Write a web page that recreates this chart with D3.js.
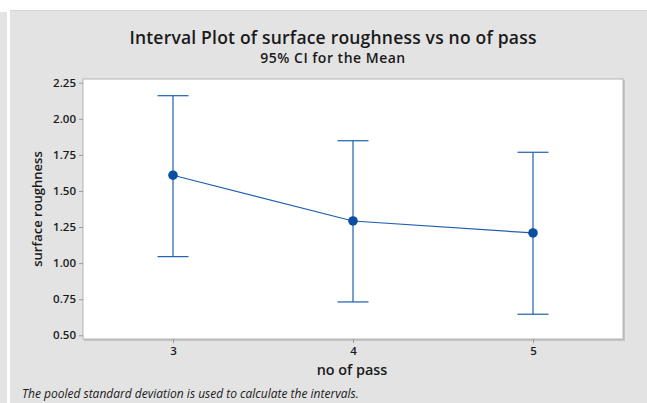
<!DOCTYPE html>
<html>
<head>
<meta charset="utf-8">
<script src="https://cdn.jsdelivr.net/npm/d3@7"></script>
<style>
  html, body { margin: 0; padding: 0; background: #ffffff; }
  svg { display: block; }
  text { font-family: "Open Sans", "Noto Sans", sans-serif; fill: #1a1a1a; }
</style>
</head>
<body>
<svg id="chart" width="647" height="403"></svg>
<script>
// Interval plot data: mean and 95% CI bounds per number of passes
const passes = [3, 4, 5];
const means = [1.609, 1.292, 1.209];
const lower = [1.045, 0.731, 0.646];
const upper = [2.160, 1.848, 1.768];
const yTicks = [0.50, 0.75, 1.00, 1.25, 1.50, 1.75, 2.00, 2.25];

const svg = d3.select("#chart");

// Background panels
svg.append("rect").attr("x", 0).attr("y", 12).attr("width", 7).attr("height", 391).attr("fill", "#e3e3e3");
svg.append("rect").attr("x", 10).attr("y", 10).attr("width", 637).attr("height", 393).attr("fill", "#e3e3e3");
svg.append("line").attr("x1", 10).attr("x2", 647).attr("y1", 10.5).attr("y2", 10.5).attr("stroke", "#d6d6d6");

const plot = { left: 83, right: 623, top: 79, bottom: 339 };

const x = d3.scaleLinear().domain([2.5, 5.5]).range([plot.left, plot.right]);
const y = d3.scaleLinear().domain([0.5, 2.25]).range([335.3, 82.7]);

// Plot area with a soft right/bottom edge
svg.append("rect").attr("x", plot.left + 1).attr("y", plot.top + 1)
  .attr("width", plot.right - plot.left + 1).attr("height", plot.bottom - plot.top + 1)
  .attr("fill", "#c4c4c4");
svg.append("rect").attr("x", plot.left).attr("y", plot.top)
  .attr("width", plot.right - plot.left).attr("height", plot.bottom - plot.top)
  .attr("fill", "#ffffff").attr("stroke", "#b4b4b4").attr("stroke-width", 1);

// Axes
const yAxis = d3.axisLeft(y).tickValues(yTicks).tickFormat(d3.format(".2f")).tickSize(4).tickPadding(3);
const gy = svg.append("g").attr("transform", `translate(${plot.left},0)`).call(yAxis);
gy.select(".domain").remove();
gy.selectAll(".tick line").attr("stroke", "#9a9a9a");
gy.selectAll(".tick text").style("font-size", "11.5px").style("font-weight", "600").attr("fill", "#1a1a1a");

const xAxis = d3.axisBottom(x).tickValues(passes).tickFormat(d3.format("d")).tickSize(4).tickPadding(4);
const gx = svg.append("g").attr("transform", `translate(0,${plot.bottom})`).call(xAxis);
gx.select(".domain").remove();
gx.selectAll(".tick line").attr("stroke", "#9a9a9a");
gx.selectAll(".tick text").style("font-size", "11.5px").style("font-weight", "600").attr("fill", "#1a1a1a");

// Titles
svg.append("text").attr("x", 333).attr("y", 43.5).attr("text-anchor", "middle")
  .style("font-size", "17.5px").style("font-weight", "600").style("letter-spacing", "0.2px")
  .text("Interval Plot of surface roughness vs no of pass");
svg.append("text").attr("x", 333).attr("y", 63).attr("text-anchor", "middle")
  .style("font-size", "14px").style("font-weight", "600").style("letter-spacing", "0.5px")
  .text("95% CI for the Mean");
svg.append("text").attr("x", 352).attr("y", 375).attr("text-anchor", "middle")
  .style("font-size", "14.4px").style("font-weight", "600")
  .text("no of pass");
svg.append("text").attr("transform", `translate(42,${(plot.top + plot.bottom) / 2}) rotate(-90)`)
  .attr("text-anchor", "middle")
  .style("font-size", "13px").style("font-weight", "600")
  .text("surface roughness");
svg.append("text").attr("x", 22).attr("y", 398)
  .style("font-size", "12px").style("font-style", "italic")
  .text("The pooled standard deviation is used to calculate the intervals.");

// Intervals
const blue = "#1f5fad";
const capHalf = 15.5;
const data = passes.map((p, i) => ({ p, m: means[i], lo: lower[i], hi: upper[i] }));

const gI = svg.append("g");
gI.selectAll("line.stem").data(data).join("line").attr("class", "stem")
  .attr("x1", d => x(d.p)).attr("x2", d => x(d.p))
  .attr("y1", d => y(d.hi)).attr("y2", d => y(d.lo))
  .attr("stroke", blue).attr("stroke-width", 1.2);
gI.selectAll("line.capHi").data(data).join("line").attr("class", "capHi")
  .attr("x1", d => x(d.p) - capHalf).attr("x2", d => x(d.p) + capHalf)
  .attr("y1", d => y(d.hi)).attr("y2", d => y(d.hi))
  .attr("stroke", blue).attr("stroke-width", 1.2);
gI.selectAll("line.capLo").data(data).join("line").attr("class", "capLo")
  .attr("x1", d => x(d.p) - capHalf).attr("x2", d => x(d.p) + capHalf)
  .attr("y1", d => y(d.lo)).attr("y2", d => y(d.lo))
  .attr("stroke", blue).attr("stroke-width", 1.2);

// Connecting line of means
const line = d3.line().x(d => x(d.p)).y(d => y(d.m));
gI.append("path").datum(data).attr("d", line)
  .attr("fill", "none").attr("stroke", blue).attr("stroke-width", 1.2);

gI.selectAll("circle").data(data).join("circle")
  .attr("cx", d => x(d.p)).attr("cy", d => y(d.m)).attr("r", 4.8)
  .attr("fill", "#0b4fa3");
</script>
</body>
</html>
